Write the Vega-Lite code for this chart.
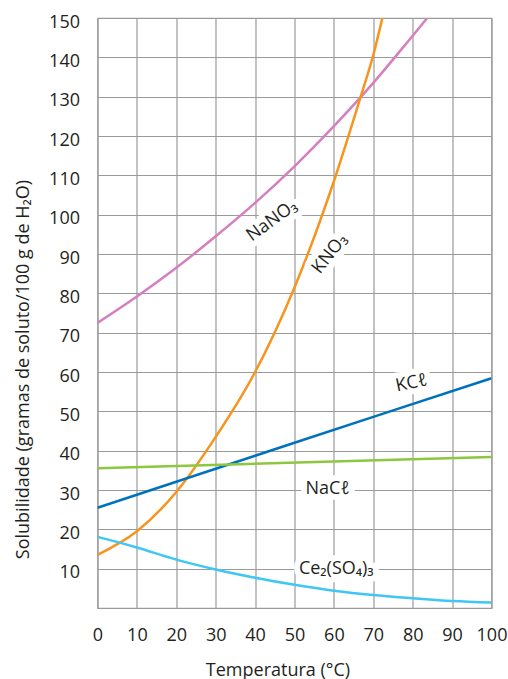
{
  "$schema": "https://vega.github.io/schema/vega-lite/v6.json",
  "width": 394,
  "height": 590,
  "autosize": {"type": "none"},
  "padding": {"left": 97.5, "top": 18, "right": 16.5, "bottom": 71},
  "background": "white",
  "config": {
    "view": {"stroke": "#a0a0a0", "strokeWidth": 1.2},
    "axis": {
      "labelFont": "Open Sans",
      "labelFontSize": 18,
      "labelColor": "#231f20",
      "titleFont": "Open Sans",
      "titleFontSize": 18,
      "titleFontWeight": "normal",
      "titleColor": "#231f20",
      "domain": false,
      "ticks": false,
      "gridColor": "#9a9a9a",
      "gridWidth": 1.2,
      "gridOpacity": 1
    }
  },
  "datasets": {
    "curves": [
      {"name": "NaNO3", "T": 0, "S": 72.5},
      {"name": "NaNO3", "T": 10, "S": 79.2},
      {"name": "NaNO3", "T": 20, "S": 86.5},
      {"name": "NaNO3", "T": 30, "S": 94.5},
      {"name": "NaNO3", "T": 40, "S": 103},
      {"name": "NaNO3", "T": 50, "S": 112.3},
      {"name": "NaNO3", "T": 60, "S": 122.5},
      {"name": "NaNO3", "T": 70, "S": 133.5},
      {"name": "NaNO3", "T": 80, "S": 145.5},
      {"name": "NaNO3", "T": 83.7, "S": 150},
      {"name": "KNO3", "T": 0, "S": 13.5},
      {"name": "KNO3", "T": 10, "S": 19.5},
      {"name": "KNO3", "T": 20, "S": 29.5},
      {"name": "KNO3", "T": 30, "S": 43.5},
      {"name": "KNO3", "T": 40, "S": 60},
      {"name": "KNO3", "T": 50, "S": 81.5},
      {"name": "KNO3", "T": 60, "S": 108.5},
      {"name": "KNO3", "T": 66.8, "S": 130},
      {"name": "KNO3", "T": 70, "S": 140.6},
      {"name": "KNO3", "T": 72.3, "S": 150},
      {"name": "KCl", "T": 0, "S": 25.5},
      {"name": "KCl", "T": 40, "S": 38.7},
      {"name": "KCl", "T": 70, "S": 48.6},
      {"name": "KCl", "T": 100, "S": 58.4},
      {"name": "NaCl", "T": 0, "S": 35.5},
      {"name": "NaCl", "T": 100, "S": 38.4},
      {"name": "Ce2(SO4)3", "T": 0, "S": 18.1},
      {"name": "Ce2(SO4)3", "T": 10, "S": 15.4},
      {"name": "Ce2(SO4)3", "T": 20, "S": 12.3},
      {"name": "Ce2(SO4)3", "T": 30, "S": 9.8},
      {"name": "Ce2(SO4)3", "T": 40, "S": 7.7},
      {"name": "Ce2(SO4)3", "T": 50, "S": 5.9},
      {"name": "Ce2(SO4)3", "T": 60, "S": 4.4},
      {"name": "Ce2(SO4)3", "T": 70, "S": 3.3},
      {"name": "Ce2(SO4)3", "T": 80, "S": 2.5},
      {"name": "Ce2(SO4)3", "T": 90, "S": 1.8},
      {"name": "Ce2(SO4)3", "T": 100, "S": 1.4}
    ],
    "labels": [
      {"name": "NaNO3", "label": "NaNO₃", "T": 44.3, "S": 98.4},
      {"name": "KNO3", "label": "KNO₃", "T": 59.0, "S": 90.0},
      {"name": "KCl", "label": "KCℓ", "T": 79.7, "S": 57.1},
      {"name": "NaCl", "label": "NaCℓ", "T": 58.4, "S": 30.3},
      {"name": "Ce2(SO4)3", "label": "Ce₂(SO₄)₃", "T": 60.6, "S": 9.9}
    ]
  },
  "encoding": {
    "x": {
      "field": "T", "type": "quantitative",
      "scale": {"domain": [0, 100], "nice": false},
      "axis": {
        "values": [0, 10, 20, 30, 40, 50, 60, 70, 80, 90, 100],
        "title": "Temperatura (°C)",
        "labelBaseline": "alphabetic",
        "labelPadding": 32,
        "titleX": 180,
        "titleY": 67,
        "titleBaseline": "alphabetic",
        "titleAnchor": "start",
        "titleAlign": "center",
        "labelFlush": false,
        "labelOverlap": false
      }
    },
    "y": {
      "field": "S", "type": "quantitative",
      "scale": {"domain": [0, 150], "nice": false},
      "axis": {
        "values": [0, 10, 20, 30, 40, 50, 60, 70, 80, 90, 100, 110, 120, 130, 140, 150],
        "labelExpr": "datum.value == 0 ? '' : datum.label",
        "title": "Solubilidade (gramas de soluto/100 g de H₂O)",
        "labelBaseline": "alphabetic",
        "labelOffset": 9,
        "labelPadding": 18,
        "titleX": -69,
        "titleY": 351,
        "titleAngle": -90,
        "titleBaseline": "alphabetic",
        "titleAlign": "center",
        "titleAnchor": "start",
        "labelFlush": false,
        "labelOverlap": false
      }
    }
  },
  "layer": [
    {
      "data": {"name": "curves"},
      "mark": {"type": "line", "strokeWidth": 2.5, "interpolate": "monotone", "clip": true},
      "encoding": {
        "detail": {"field": "name"},
        "color": {
          "field": "name", "type": "nominal",
          "scale": {
            "domain": ["NaNO3", "KNO3", "KCl", "NaCl", "Ce2(SO4)3"],
            "range": ["#d47fbf", "#f7941d", "#0072bc", "#8dc63f", "#3ec7f4"]
          },
          "legend": null
        }
      }
    },
    {
      "data": {"name": "labels"},
      "transform": [{"filter": "datum.name == 'NaCl' || datum.name == 'Ce2(SO4)3'"}],
      "encoding": {"text": {"field": "label"}},
      "layer": [
        {"mark": {"type": "text", "font": "Open Sans", "fontSize": 18, "stroke": "white", "strokeWidth": 12, "fill": "white", "strokeJoin": "round", "baseline": "middle"}},
        {"mark": {"type": "text", "font": "Open Sans", "fontSize": 18, "fill": "#231f20", "baseline": "middle"}}
      ]
    },
    {
      "data": {"name": "labels"},
      "transform": [{"filter": "datum.name == 'KCl'"}],
      "encoding": {"text": {"field": "label"}},
      "layer": [
        {"mark": {"type": "text", "font": "Open Sans", "fontSize": 18, "angle": -12, "stroke": "white", "strokeWidth": 12, "fill": "white", "strokeJoin": "round", "baseline": "middle"}},
        {"mark": {"type": "text", "font": "Open Sans", "fontSize": 18, "angle": -12, "fill": "#231f20", "baseline": "middle"}}
      ]
    },
    {
      "data": {"name": "labels"},
      "transform": [{"filter": "datum.name == 'NaNO3'"}],
      "encoding": {"text": {"field": "label"}},
      "layer": [
        {"mark": {"type": "text", "font": "Open Sans", "fontSize": 18, "angle": -36, "stroke": "white", "strokeWidth": 12, "fill": "white", "strokeJoin": "round", "baseline": "middle"}},
        {"mark": {"type": "text", "font": "Open Sans", "fontSize": 18, "angle": -36, "fill": "#231f20", "baseline": "middle"}}
      ]
    },
    {
      "data": {"name": "labels"},
      "transform": [{"filter": "datum.name == 'KNO3'"}],
      "encoding": {"text": {"field": "label"}},
      "layer": [
        {"mark": {"type": "text", "font": "Open Sans", "fontSize": 18, "angle": -52, "stroke": "white", "strokeWidth": 12, "fill": "white", "strokeJoin": "round", "baseline": "middle"}},
        {"mark": {"type": "text", "font": "Open Sans", "fontSize": 18, "angle": -52, "fill": "#231f20", "baseline": "middle"}}
      ]
    }
  ]
}
